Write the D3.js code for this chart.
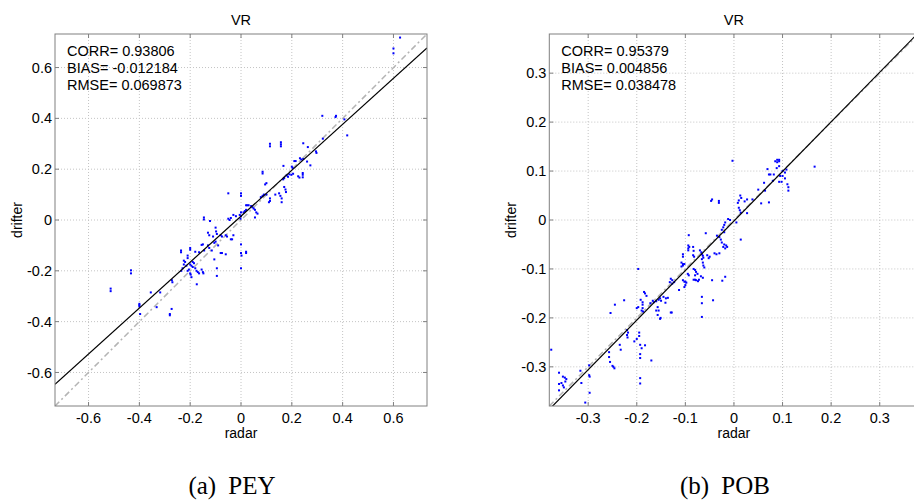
<!DOCTYPE html>
<html>
<head>
<meta charset="utf-8">
<script src="https://cdn.jsdelivr.net/npm/d3@7"></script>
<style>
  body { margin: 0; background: #fff; }
  svg { display: block; font-family: "Liberation Sans", Arial, sans-serif; }
</style>
</head>
<body>
<svg id="chart" width="914" height="503"></svg>
<script>
// PEY panel: [radar, drifter]
const peyPoints = [
  [0.626,0.718],[0.60,0.675],[0.60,0.656],
  [0.32,0.41],[0.374,0.41],[0.372,0.405],[0.407,0.396],[0.418,0.333],
  [0.322,0.32],[0.295,0.27],[0.297,0.264],[0.273,0.215],
  [0.114,0.30],[0.114,0.29],[0.157,0.306],[0.157,0.298],[0.157,0.29],[0.245,0.302],[0.263,0.287],
  [0.085,0.19],[0.085,0.183],[0.167,0.213],[0.21,0.232],[0.215,0.232],[0.232,0.243],[0.237,0.238],[0.245,0.24],[0.26,0.23],
  [0.243,0.185],[0.243,0.178],[0.243,0.168],[0.205,0.182],[0.198,0.178],[0.19,0.18],[0.18,0.175],[0.185,0.17],[0.17,0.165],[0.166,0.16],[0.2,0.21],[0.203,0.205],[0.225,0.172],[0.23,0.167],
  [0.1,0.145],[0.095,0.14],[0.09,0.10],[0.1,0.1],[0.085,0.095],[0.078,0.09],[0.114,0.085],[0.114,0.075],[0.135,0.10],[0.15,0.105],[0.155,0.095],[0.17,0.13],[0.175,0.12],[0.177,0.11],[0.16,0.07],[0.16,0.085],[0.11,0.07],
  [-0.05,0.105],[0,0.105],[0,0.095],[0.02,0.058],[0.025,0.058],[0.03,0.058],[0.04,0.055],[0.045,0.05],[0.05,0.045],[0.055,0.04],[0.06,0.03],[0.065,0.025],[0.055,0.01],[0.02,0.04],[0.015,0.035],[0.01,0.03],[0.0,0.03],[-0.005,0.02],[-0.02,0.015],[-0.03,0.02],[-0.05,0.005],[-0.045,0.0],[-0.04,0.008],[0.0,0.015],[-0.002,0.005],
  [-0.146,0.01],[-0.146,0.002],[-0.122,-0.004],[-0.1,-0.03],[-0.098,-0.045],[-0.095,-0.055],[-0.08,-0.06],[-0.075,-0.065],[-0.06,-0.06],[-0.055,-0.065],[-0.04,-0.076],[-0.035,-0.076],[-0.03,-0.06],[0,-0.096],[0.0,-0.13],[0.002,-0.14],[0.02,-0.125],[0.02,-0.13],[0,-0.19],
  [-0.13,-0.05],[-0.125,-0.06],[-0.11,-0.065],[-0.105,-0.09],[-0.1,-0.085],[-0.09,-0.1],[-0.15,-0.096],[-0.155,-0.098],[-0.13,-0.1],[-0.125,-0.11],[-0.115,-0.12],[-0.08,-0.13],[-0.075,-0.13],[-0.06,-0.135],
  [-0.18,-0.125],[-0.2,-0.11],[-0.2,-0.117],[-0.236,-0.12],[-0.236,-0.127],[-0.21,-0.14],[-0.21,-0.15],[-0.225,-0.16],[-0.22,-0.165],[-0.2,-0.175],[-0.195,-0.18],[-0.19,-0.185],[-0.18,-0.19],[-0.175,-0.2],[-0.17,-0.205],[-0.165,-0.21],[-0.2,-0.21],[-0.198,-0.215],[-0.195,-0.225],
  [-0.155,-0.195],[-0.15,-0.205],[-0.148,-0.21],[-0.105,-0.155],[-0.095,-0.19],[-0.095,-0.22],[-0.174,-0.253],[-0.165,-0.127],[-0.145,-0.12],
  [-0.513,-0.27],[-0.513,-0.28],[-0.433,-0.198],[-0.433,-0.21],[-0.40,-0.33],[-0.40,-0.335],[-0.40,-0.34],[-0.397,-0.37],[-0.355,-0.285],[-0.332,-0.343],[-0.318,-0.285],
  [-0.272,-0.237],[-0.27,-0.245],[-0.28,-0.37],[-0.28,-0.375],[-0.273,-0.35],
  [-0.23,-0.19],[-0.235,-0.2],[-0.225,-0.175],[-0.215,-0.18],[-0.19,-0.165],[-0.185,-0.17],[-0.21,-0.2],[-0.205,-0.195]
];

// POB panel: [radar, drifter]
const pobPoints = [
  [-0.003,0.121],[0.166,0.109],[0.089,0.123],[0.093,0.123],[0.089,0.118],[0.093,0.12],[0.085,0.12],[0.093,0.11],[0.088,0.106],[0.1,0.1],[0.105,0.097],[0.108,0.103],
  [0.069,0.104],[0.072,0.093],[0.075,0.093],[0.082,0.093],[0.08,0.08],[0.1,0.09],[0.105,0.085],[0.095,0.09],[0.093,0.078],[0.098,0.078],[0.11,0.073],[0.112,0.067],[0.112,0.06],
  [0.062,0.076],[0.064,0.06],[0.05,0.062],[0.038,0.042],[0.056,0.034],[0.072,0.036],[0.027,0.042],[0.022,0.038],[0.013,0.05],[0.015,0.045],[0.01,0.04],[0.008,0.035],[0.01,0.025],[0.012,0.02],[0.014,0.015],[0.027,0.014],
  [-0.047,0.039],[-0.045,0.042],[-0.031,0.039],[-0.031,0.035],[-0.008,0.0],[-0.012,0.002],[-0.018,-0.005],[-0.02,-0.01],[-0.022,-0.015],[-0.025,-0.02],[-0.02,-0.025],[0.014,-0.04],[0.005,-0.005],
  [-0.093,-0.031],[-0.058,-0.027],[-0.035,-0.032],[-0.03,-0.035],[-0.027,-0.04],[-0.105,-0.07],[-0.105,-0.075],[-0.094,-0.052],[-0.094,-0.058],[-0.092,-0.055],[-0.094,-0.062],
  [-0.084,-0.055],[-0.083,-0.063],[-0.084,-0.072],[-0.082,-0.075],[-0.07,-0.062],[-0.067,-0.066],[-0.066,-0.07],[-0.064,-0.073],[-0.063,-0.077],[-0.066,-0.08],[-0.064,-0.087],[-0.063,-0.093],[-0.061,-0.097],
  [-0.055,-0.072],[-0.052,-0.078],[-0.05,-0.075],[-0.04,-0.068],[-0.036,-0.07],[-0.03,-0.068],[-0.025,-0.046],[-0.022,-0.055],[-0.02,-0.05],[-0.018,-0.058],[-0.016,-0.052],[-0.014,-0.055],
  [-0.108,-0.087],[-0.105,-0.09],[-0.102,-0.09],[-0.105,-0.093],[-0.108,-0.095],[-0.095,-0.11],[-0.093,-0.113],[-0.083,-0.1],[-0.08,-0.102],[-0.078,-0.106],[-0.08,-0.113],[-0.075,-0.11],[-0.068,-0.115],[-0.064,-0.118],
  [-0.197,-0.1],[-0.13,-0.12],[-0.127,-0.123],[-0.123,-0.127],[-0.127,-0.13],[-0.132,-0.127],[-0.105,-0.123],[-0.102,-0.126],[-0.1,-0.126],[-0.098,-0.128],[-0.1,-0.133],[-0.102,-0.137],[-0.113,-0.143],
  [-0.083,-0.122],[-0.08,-0.122],[-0.078,-0.123],[-0.074,-0.125],[-0.072,-0.122],[-0.045,-0.123],[-0.024,-0.124],[-0.018,-0.116],
  [-0.066,-0.157],[-0.066,-0.17],[-0.066,-0.198],[-0.043,-0.164],[-0.128,-0.189],[-0.152,-0.202],
  [-0.185,-0.147],[-0.183,-0.15],[-0.18,-0.155],[-0.192,-0.163],[-0.188,-0.168],[-0.188,-0.173],[-0.188,-0.18],[-0.197,-0.178],[-0.2,-0.18],[-0.19,-0.185],[-0.187,-0.187],
  [-0.167,-0.165],[-0.165,-0.168],[-0.16,-0.166],[-0.155,-0.163],[-0.152,-0.16],[-0.145,-0.157],[-0.14,-0.16],[-0.15,-0.165],[-0.157,-0.178],[-0.155,-0.185],[-0.16,-0.185],[-0.157,-0.194],[-0.151,-0.2],[-0.172,-0.17],[-0.136,-0.159],[-0.141,-0.169],[-0.13,-0.189],
  [-0.226,-0.164],[-0.245,-0.173],[-0.254,-0.19],
  [-0.257,-0.27],[-0.257,-0.28],[-0.255,-0.29],[-0.25,-0.298],[-0.248,-0.3],[-0.246,-0.303],[-0.235,-0.255],[-0.233,-0.265],[-0.22,-0.225],[-0.218,-0.23],[-0.22,-0.235],[-0.219,-0.24],
  [-0.205,-0.248],[-0.2,-0.243],[-0.195,-0.23],[-0.195,-0.237],[-0.193,-0.255],[-0.19,-0.262],[-0.183,-0.256],[-0.193,-0.274],[-0.193,-0.282],[-0.193,-0.323],[-0.193,-0.334],[-0.17,-0.287],
  [-0.376,-0.265],[-0.36,-0.312],[-0.36,-0.335],[-0.36,-0.348],[-0.352,-0.32],[-0.348,-0.322],[-0.345,-0.325],[-0.347,-0.33],[-0.352,-0.338],[-0.35,-0.342],[-0.355,-0.333],
  [-0.316,-0.308],[-0.314,-0.333],[-0.298,-0.297],[-0.298,-0.317],[-0.297,-0.32],[-0.297,-0.353],[-0.306,-0.373]
];

const peyTicks = [-0.6, -0.4, -0.2, 0, 0.2, 0.4, 0.6];
const pobTicks = [-0.3, -0.2, -0.1, 0, 0.1, 0.2, 0.3];

const peyStats = ['CORR= 0.93806', 'BIAS= -0.012184', 'RMSE= 0.069873'];
const pobStats = ['CORR= 0.95379', 'BIAS= 0.004856', 'RMSE= 0.038478'];

// fitted line: [slope, intercept]
const peyFit = [0.904, 0.015];
const pobFit = [1.013, -0.002];

const panels = [
  { points: peyPoints, ticks: peyTicks, stats: peyStats, fit: peyFit, lim: 0.732,
    left: 55, width: 372, caption: '(a) PEY', capX: 232, id: 'a' },
  { points: pobPoints, ticks: pobTicks, stats: pobStats, fit: pobFit, lim: 0.38,
    left: 549.3, width: 369.3, caption: '(b) POB', capX: 725, id: 'b' }
];

const svg = d3.select('#chart');
const plotTop = 34, plotBottom = 406;
const axisColor = '#808080';
const fs = 14.5;

panels.forEach(p => {
  const x = d3.scaleLinear().domain([-p.lim, p.lim]).range([p.left, p.left + p.width]);
  const y = d3.scaleLinear().domain([-p.lim, p.lim]).range([plotBottom, plotTop]);
  const right = p.left + p.width;

  svg.append('clipPath').attr('id', 'clip-' + p.id)
    .append('rect')
    .attr('x', p.left).attr('y', plotTop)
    .attr('width', p.width).attr('height', plotBottom - plotTop);

  const g = svg.append('g');

  // grid
  g.selectAll('.gx').data(p.ticks).enter().append('line')
    .attr('x1', d => x(d)).attr('x2', d => x(d))
    .attr('y1', plotTop).attr('y2', plotBottom)
    .attr('stroke', '#c4c4c4').attr('stroke-dasharray', '1,2');
  g.selectAll('.gy').data(p.ticks).enter().append('line')
    .attr('y1', d => y(d)).attr('y2', d => y(d))
    .attr('x1', p.left).attr('x2', right)
    .attr('stroke', '#c4c4c4').attr('stroke-dasharray', '1,2');

  const plot = g.append('g').attr('clip-path', `url(#clip-${p.id})`);

  // 1:1 line
  plot.append('line')
    .attr('x1', x(-p.lim)).attr('y1', y(-p.lim))
    .attr('x2', x(p.lim)).attr('y2', y(p.lim))
    .attr('stroke', '#b4b4b4').attr('stroke-width', 1.5)
    .attr('stroke-dasharray', '6,3,2,3');

  // points
  plot.selectAll('.pt').data(p.points).enter().append('rect')
    .attr('x', d => x(d[0]) - 1).attr('y', d => y(d[1]) - 1)
    .attr('width', 2).attr('height', 2)
    .attr('fill', '#0000ff');

  // fit line
  plot.append('line')
    .attr('x1', x(-p.lim)).attr('y1', y(p.fit[0] * -p.lim + p.fit[1]))
    .attr('x2', x(p.lim)).attr('y2', y(p.fit[0] * p.lim + p.fit[1]))
    .attr('stroke', '#000').attr('stroke-width', 1.2);

  // axes box
  g.append('rect')
    .attr('x', p.left).attr('y', plotTop)
    .attr('width', p.width).attr('height', plotBottom - plotTop)
    .attr('fill', 'none').attr('stroke', axisColor).attr('stroke-width', 1);

  // inward ticks on all sides
  const tl = 4;
  p.ticks.forEach(t => {
    g.append('line').attr('x1', x(t)).attr('x2', x(t)).attr('y1', plotBottom).attr('y2', plotBottom - tl).attr('stroke', axisColor);
    g.append('line').attr('x1', x(t)).attr('x2', x(t)).attr('y1', plotTop).attr('y2', plotTop + tl).attr('stroke', axisColor);
    g.append('line').attr('y1', y(t)).attr('y2', y(t)).attr('x1', p.left).attr('x2', p.left + tl).attr('stroke', axisColor);
    g.append('line').attr('y1', y(t)).attr('y2', y(t)).attr('x1', right).attr('x2', right - tl).attr('stroke', axisColor);
  });

  // tick labels
  g.selectAll('.xl').data(p.ticks).enter().append('text')
    .attr('x', d => x(d)).attr('y', 423)
    .attr('text-anchor', 'middle').attr('font-size', fs)
    .text(d => d3.format('')(d).replace('−', '-'));
  g.selectAll('.yl').data(p.ticks).enter().append('text')
    .attr('x', p.left - 3).attr('y', d => y(d)).attr('dy', '0.35em')
    .attr('text-anchor', 'end').attr('font-size', fs)
    .text(d => d3.format('')(d).replace('−', '-'));

  const cx = p.left + p.width / 2;
  g.append('text').attr('x', cx).attr('y', 25)
    .attr('text-anchor', 'middle').attr('font-size', fs).text('VR');
  g.append('text').attr('x', cx).attr('y', 438)
    .attr('text-anchor', 'middle').attr('font-size', 14).text('radar');
  g.append('text')
    .attr('transform', `translate(${p.left - 33},${(plotTop + plotBottom) / 2}) rotate(-90)`)
    .attr('text-anchor', 'middle').attr('font-size', 14).text('drifter');

  g.selectAll('.st').data(p.stats).enter().append('text')
    .attr('x', p.left + 12).attr('y', (d, i) => 56 + i * 17)
    .attr('font-size', fs).text(d => d);

  svg.append('text').attr('x', p.capX).attr('y', 494)
    .attr('text-anchor', 'middle')
    .attr('font-family', '"Liberation Serif", "DejaVu Serif", serif')
    .attr('font-size', 25).attr('word-spacing', 6)
    .text(p.caption);
});
</script>
</body>
</html>
